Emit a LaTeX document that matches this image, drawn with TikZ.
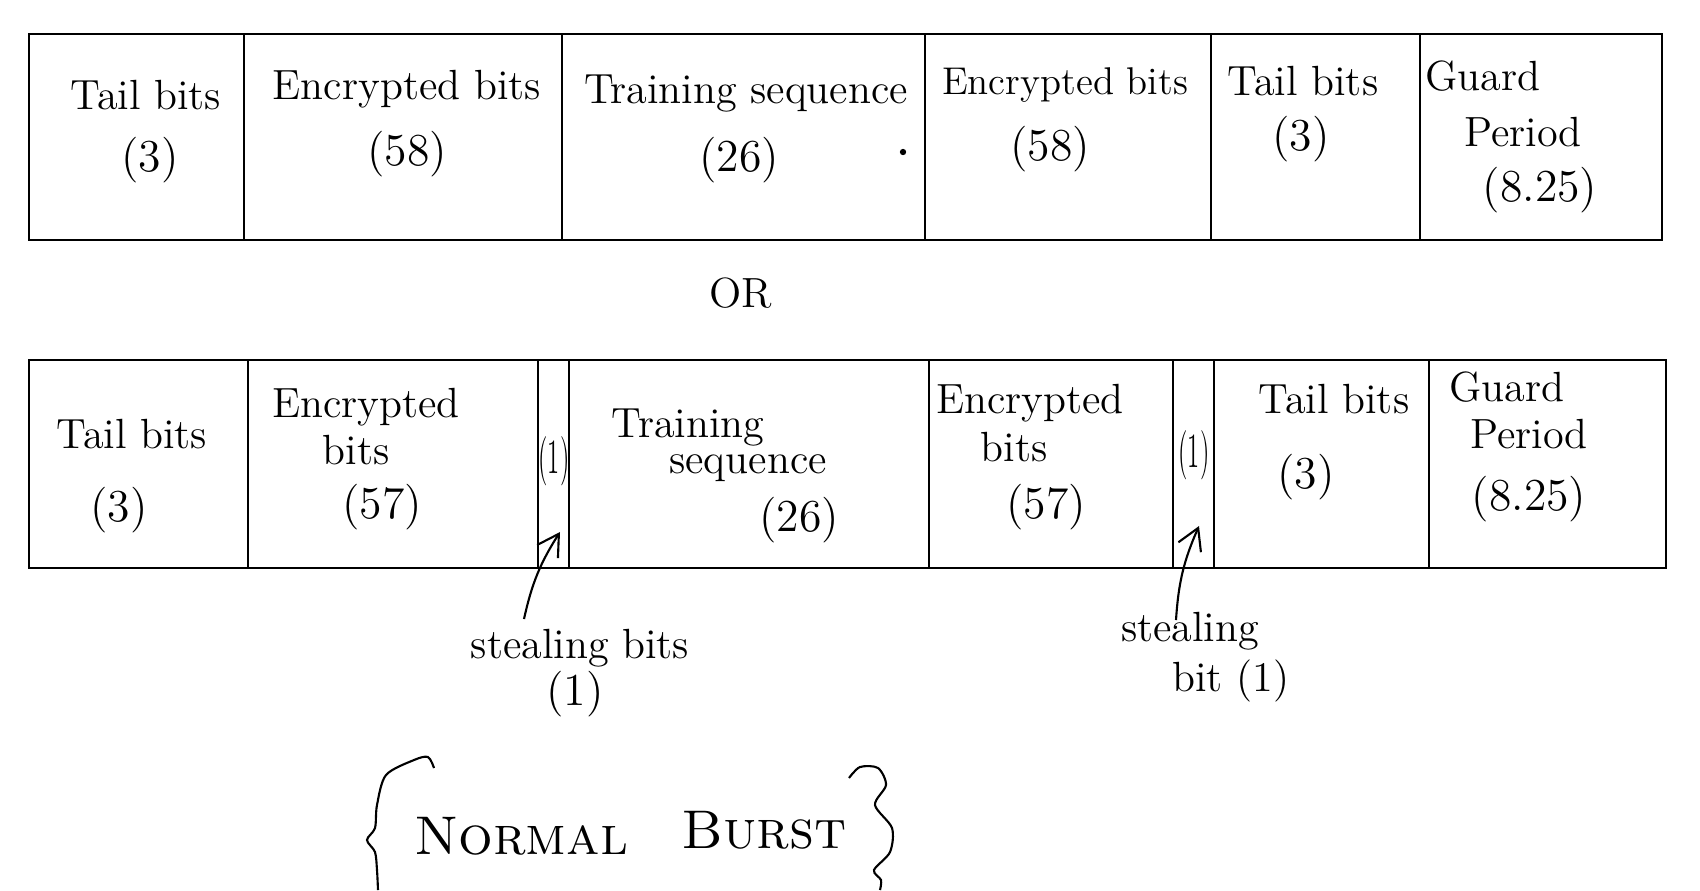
\documentclass[tikz,border=0pt]{standalone}
\usepackage{fontspec}
\usetikzlibrary{arrows.meta}

\tikzset{
  lbl/.style={font=\fontsize{12}{14}\selectfont, inner sep=1pt},
  num/.style={font=\fontsize{13}{15}\selectfont, inner sep=1pt},
  thin lbl/.style={font=\fontsize{14}{16}\selectfont, inner sep=0pt},
  steal arrow/.style={semithick, -{Straight Barb[length=6pt,width=7pt]}},
}

\begin{document}
\begin{tikzpicture}[x=0.01cm, y=-0.01cm]
  \useasboundingbox (0,0) rectangle (1700,890);

  %% burst with 58 bit halves
  \draw[thick] (29,34) rectangle (1662,240);
  \foreach \x in {244,562,925,1211,1420}
    \draw[semithick] (\x,34) -- (\x,240);

  \node[lbl] (tailA)   at (146,95)  {Tail bits};
  \node[num] (tailAn)  at (150,160) {(3)};
  \node[lbl] (encA)    at (407,89)  {Encrypted bits};
  \node[num] (encAn)   at (407,154) {(58)};
  \node[lbl] (trainA)  at (746,94)  {Training sequence};
  \node[num] (trainAn) at (739,160) {(26)};
  \fill (903,152) circle (0.9pt);
  \node[lbl, font=\fontsize{11}{13}\selectfont] (encB) at (1065,85) {Encrypted bits};
  \node[num] (encBn)   at (1050,149) {(58)};
  \node[lbl] (tailB)   at (1303,81)  {Tail bits};
  \node[num] (tailBn)  at (1301,139) {(3)};
  \node[lbl] (guardA)  at (1483,76)  {Guard};
  \node[lbl] (periodA) at (1523,132) {Period};
  \node[num] (guardAn) at (1540,190) {(8.25)};

  %% OR
  \node[lbl] (or) at (741,293) {OR};

  %% burst with stealing bits
  \draw[thick] (29,360) rectangle (1666,568);
  \foreach \x in {248,538,569,929,1173,1214,1429}
    \draw[semithick] (\x,360) -- (\x,568);

  \node[lbl] (tailC)   at (132,434) {Tail bits};
  \node[num] (tailCn)  at (119,510) {(3)};
  \node[lbl] (encC)    at (366,407) {Encrypted};
  \node[lbl] (encCb)   at (356,450) {bits};
  \node[num] (encCn)   at (382,507) {(57)};
  \node[thin lbl] (bitC) at (554,461) {\scalebox{0.5}[1]{(1)}};
  \node[lbl] (trainC)  at (688,428) {Training};
  \node[lbl] (trainCb) at (748,468) {sequence};
  \node[num] (trainCn) at (799,520) {(26)};
  \node[lbl] (encD)    at (1030,403) {Encrypted};
  \node[lbl] (encDb)   at (1014,447) {bits};
  \node[num] (encDn)   at (1046,507) {(57)};
  \node[thin lbl] (bitD) at (1194,455) {\scalebox{0.5}[1]{(1)}};
  \node[lbl] (tailD)   at (1334,399) {Tail bits};
  \node[num] (tailDn)  at (1306,477) {(3)};
  \node[lbl] (guardB)  at (1507,387) {Guard};
  \node[lbl] (periodB) at (1529,434) {Period};
  \node[num] (guardBn) at (1529,499) {(8.25)};

  %% stealing bits
  \node[lbl] (stealA)  at (580,648) {stealing bits};
  \node[num] (stealAn) at (575,694) {(1)};
  \node[lbl] (stealB)  at (1190,631) {stealing};
  \node[lbl] (stealBb) at (1231,681) {bit (1)};

  \coordinate (tailArrA) at (524,619);
  \coordinate (tipA)     at (560,532);
  \coordinate (tailArrB) at (1176,620);
  \coordinate (tipB)     at (1199,526);
  \draw[steal arrow] (tailArrA) to[bend left=10] (tipA);
  \draw[steal arrow] (tailArrB) to[bend left=10] (tipB);

  %% normal burst
  \node[font=\fontsize{15.5}{18}\selectfont] (normal) at (521,836) {\textsc{Normal}};
  \node[font=\fontsize{15.5}{18}\selectfont] (burst)  at (764,830) {\textsc{Burst}};
  \draw[semithick] plot[smooth] coordinates
    {(434,768) (428,757) (414,760) (386,775) (377,805) (375,828) (367,840)
     (375,852) (377,870) (378,890)};
  \draw[semithick] plot[smooth] coordinates
    {(849,778) (860,767) (878,768) (886,785) (875,805) (892,828) (890,852)
     (874,870) (881,880) (880,890)};

\end{tikzpicture}
\end{document}
